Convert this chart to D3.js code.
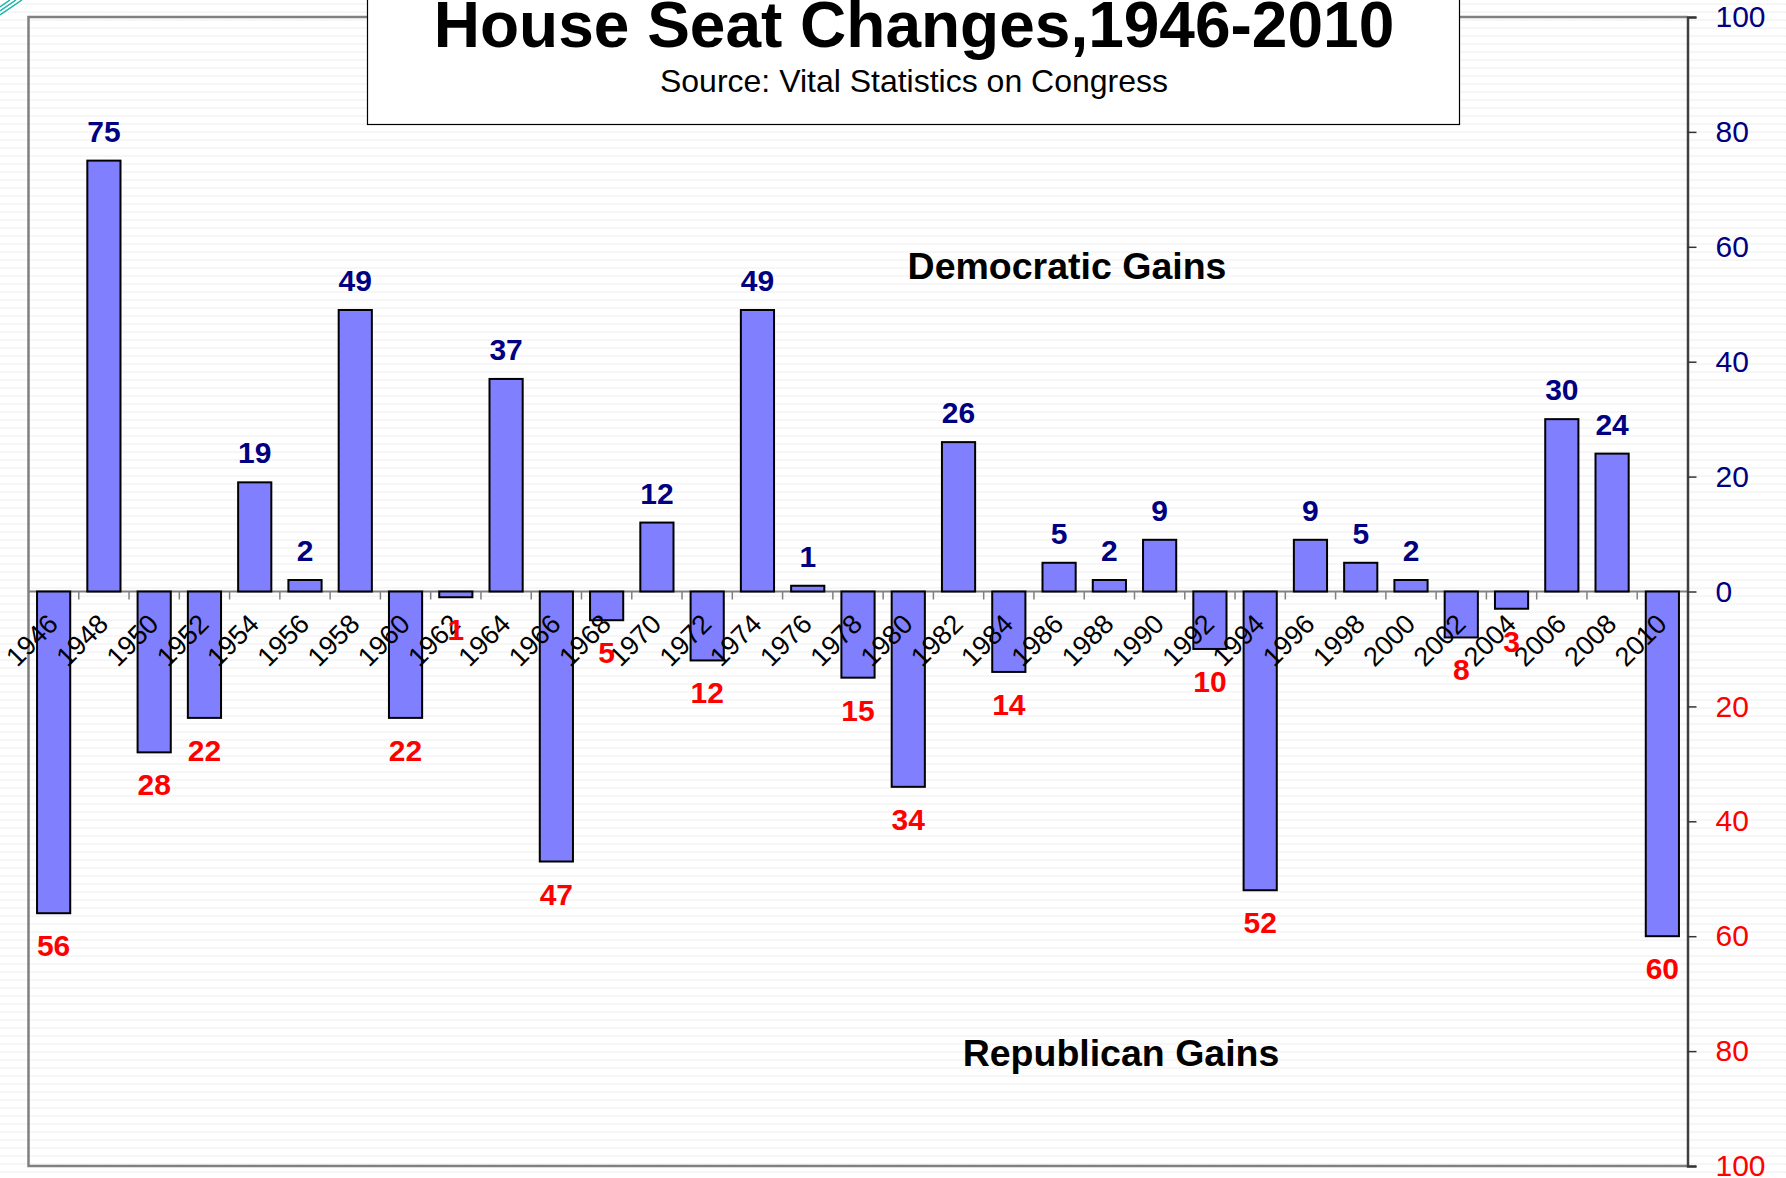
<!DOCTYPE html>
<html>
<head>
<meta charset="utf-8">
<script src="https://cdn.jsdelivr.net/npm/d3@7"></script>
<style>
  html, body { margin: 0; padding: 0; background: #fff; }
  svg { display: block; font-family: "Liberation Sans", Arial, sans-serif; }
</style>
</head>
<body>
<svg id="chart" width="1786" height="1178"></svg>
<script>
// ---- data ----
const years = [1946,1948,1950,1952,1954,1956,1958,1960,1962,1964,1966,1968,1970,1972,1974,1976,
               1978,1980,1982,1984,1986,1988,1990,1992,1994,1996,1998,2000,2002,2004,2006,2008,2010];
const seatChange = [-56,75,-28,-22,19,2,49,-22,-1,37,-47,-5,12,-12,49,1,
                    -15,-34,26,-14,5,2,9,-10,-52,9,5,2,-8,-3,30,24,-60];
const yTicks = [-100,-80,-60,-40,-20,0,20,40,60,80,100];
const titleText = "House Seat Changes,1946-2010";
const subtitleText = "Source: Vital Statistics on Congress";
const upperNote = "Democratic Gains";
const lowerNote = "Republican Gains";

(function () {
const NAVY = "#000080", RED = "#ff0000";

const svg = d3.select("#chart");
const W = 1786, H = 1178;
const pl = 28.5, pr = 1687.5, pt = 17, pb = 1166;

// background pattern
const defs = svg.append("defs");
const pat = defs.append("pattern").attr("id", "bg").attr("patternUnits", "userSpaceOnUse")
  .attr("width", 6).attr("height", 8);
pat.append("rect").attr("width", 6).attr("height", 8).attr("fill", "#ffffff");
pat.append("path").attr("d", "M0,5 L1.5,3 L3,5 L4.5,3 L6,5").attr("fill", "none")
  .attr("stroke", "#f1f1f1").attr("stroke-width", 1);
svg.append("rect").attr("width", W).attr("height", H).attr("fill", "url(#bg)");

// teal corner decoration
svg.append("path").attr("d", "M0,15 L22,0 M0,11 L16,0 M0,7 L10,0").attr("stroke", "#1fb5a8")
  .attr("stroke-width", 1.5).attr("fill", "none");

// scales
const x = d3.scaleBand().domain(years).range([pl, pr]).paddingInner(0.34).paddingOuter(0.17);
const y = d3.scaleLinear().domain([-100, 100]).range([pb, pt]);

// frame
svg.append("path")
  .attr("d", `M${pr},${pt} L${pl},${pt} L${pl},${pb} L${pr},${pb}`)
  .attr("fill", "none").attr("stroke", "#808080").attr("stroke-width", 2.5);

// zero line and boundary ticks
const zeroY = y(0);
svg.append("line").attr("x1", pl).attr("x2", pr).attr("y1", zeroY).attr("y2", zeroY)
  .attr("stroke", "#808080").attr("stroke-width", 2);
const halfGap = x.step() * x.paddingInner() / 2;
const boundaries = years.slice(1).map(d => x(d) - halfGap);
svg.append("g").selectAll("line").data(boundaries).join("line")
  .attr("x1", d => d).attr("x2", d => d).attr("y1", zeroY).attr("y2", zeroY + 8)
  .attr("stroke", "#808080").attr("stroke-width", 1.5);

// bars
svg.append("g").selectAll("rect").data(years).join("rect")
  .attr("x", d => x(d))
  .attr("width", x.bandwidth())
  .attr("y", (d, i) => y(Math.max(0, seatChange[i])))
  .attr("height", (d, i) => Math.abs(y(seatChange[i]) - y(0)))
  .attr("fill", "#8080ff").attr("stroke", "#000").attr("stroke-width", 2);

// x labels
const xAxis = svg.append("g").attr("transform", `translate(0,${zeroY})`)
  .call(d3.axisBottom(x).tickSize(0).tickPadding(0));
xAxis.select(".domain").remove();
xAxis.selectAll("text")
  .attr("font-size", 27).attr("fill", "#000")
  .attr("font-family", "Liberation Sans, Arial, sans-serif")
  .attr("text-anchor", "end")
  .attr("dy", null).attr("y", null)
  .attr("transform", "translate(6,34) rotate(-45)");

// right axis
const yAxis = svg.append("g").attr("transform", `translate(${pr},0)`)
  .call(d3.axisRight(y).tickValues(yTicks).tickFormat(d => Math.abs(d)).tickSize(9).tickPadding(19));
yAxis.select(".domain").attr("stroke", "#404040").attr("stroke-width", 2.5);
yAxis.selectAll(".tick line").attr("stroke", "#333").attr("stroke-width", 1.5);
yAxis.selectAll("text").attr("font-size", 30)
  .attr("font-family", "Liberation Sans, Arial, sans-serif")
  .attr("fill", d => d >= 0 ? NAVY : RED);

// value labels
svg.append("g").selectAll("text").data(years).join("text")
  .attr("x", d => x(d) + x.bandwidth() / 2)
  .attr("y", (d, i) => seatChange[i] >= 0 ? y(seatChange[i]) - 19 : y(seatChange[i]) + 43)
  .attr("text-anchor", "middle")
  .attr("font-size", 30).attr("font-weight", "bold")
  .attr("fill", (d, i) => seatChange[i] >= 0 ? NAVY : RED)
  .text((d, i) => Math.abs(seatChange[i]));

// notes
svg.append("text").attr("x", 1067).attr("y", y(50)).attr("dy", -25)
  .attr("text-anchor", "middle").attr("font-size", 37.5).attr("font-weight", "bold")
  .attr("fill", "#000").text(upperNote);
svg.append("text").attr("x", 1121).attr("y", y(-80)).attr("dy", 15)
  .attr("text-anchor", "middle").attr("font-size", 37.5).attr("font-weight", "bold")
  .attr("fill", "#000").text(lowerNote);

// title box
svg.append("rect").attr("x", 367.5).attr("y", -2).attr("width", 1092).attr("height", 126.5)
  .attr("fill", "#fff").attr("stroke", "#000").attr("stroke-width", 1.2);
svg.append("text").attr("x", 914).attr("y", 47).attr("text-anchor", "middle")
  .attr("font-size", 64).attr("font-weight", "bold").attr("fill", "#000").text(titleText);
svg.append("text").attr("x", 914).attr("y", 92).attr("text-anchor", "middle")
  .attr("font-size", 32).attr("fill", "#000").text(subtitleText);
})();
</script>
</body>
</html>
